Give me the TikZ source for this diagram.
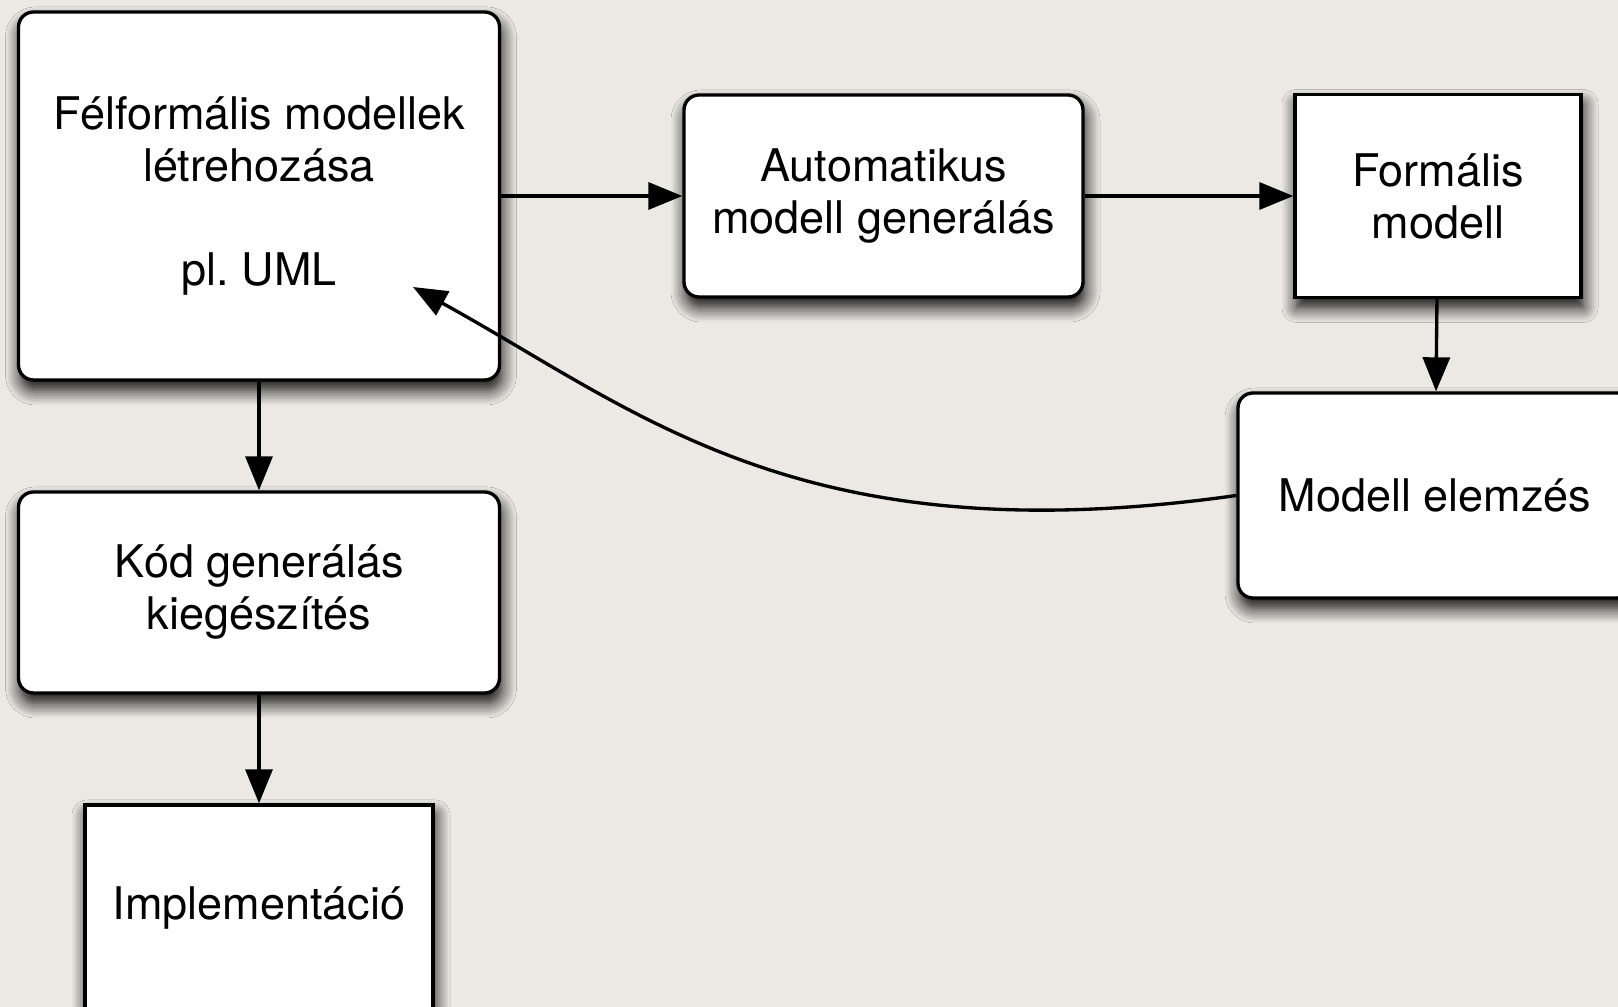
\documentclass[tikz,border=0pt]{standalone}
\usepackage{fontspec}
\setmainfont{TeX Gyre Heros}
\usepackage{tikz}
\usetikzlibrary{arrows.meta,shadows.blur}
\definecolor{paper}{RGB}{236,233,228}

\begin{document}
\begin{tikzpicture}
[rbox/.style={rectangle,rounded corners=0.15cm,draw=black,fill=white,line width=0.95pt,inner sep=0pt,align=center,font=\fontsize{12.8}{14.8}\selectfont,blur shadow={shadow xshift=0.02cm,shadow yshift=-0.1cm,shadow blur radius=0.15cm,shadow blur steps=8,shadow opacity=100}},
 sbox/.style={rbox,sharp corners},
 arr/.style={line width=0.95pt,-{Triangle[length=0.34cm,width=0.27cm]}}]
\clip (0,0) rectangle (16.18,10.07);
\fill[paper] (0,0) rectangle (16.18,10.07);
\node[rbox,minimum width=4.81cm,minimum height=3.68cm] (00) at (2.59,8.11) {Félformális modellek\\létrehozása\\[14.8pt]pl.\ UML};
\node[rbox,minimum width=3.99cm,minimum height=2.02cm] (10) at (8.835,8.11) {Automatikus\\modell generálás};
\node[sbox,minimum width=2.86cm,minimum height=2.03cm] (20) at (14.38,8.11) {Formális\\modell};
\node[rbox,minimum width=3.94cm,minimum height=2.05cm] (21) at (14.35,5.115) {Modell elemzés};
\node[rbox,minimum width=4.81cm,minimum height=2.01cm] (01) at (2.59,4.145) {Kód generálás\\kiegészítés};
\node[sbox,minimum width=3.48cm,minimum height=2.06cm] (02) at (2.59,0.99) {Implementáció};
\coordinate (tip) at (4.13,7.20);

\draw [arr] (00) -- (10);
\draw [arr] (10) -- (20);
\draw [arr] (20) -- (21);
\draw [arr] (00) -- (01);
\draw [arr] (01) -- (02);
\draw [arr] (21.west) .. controls (8.0,4.5) and (6.4,5.95) .. (tip);
\end{tikzpicture}
\end{document}
